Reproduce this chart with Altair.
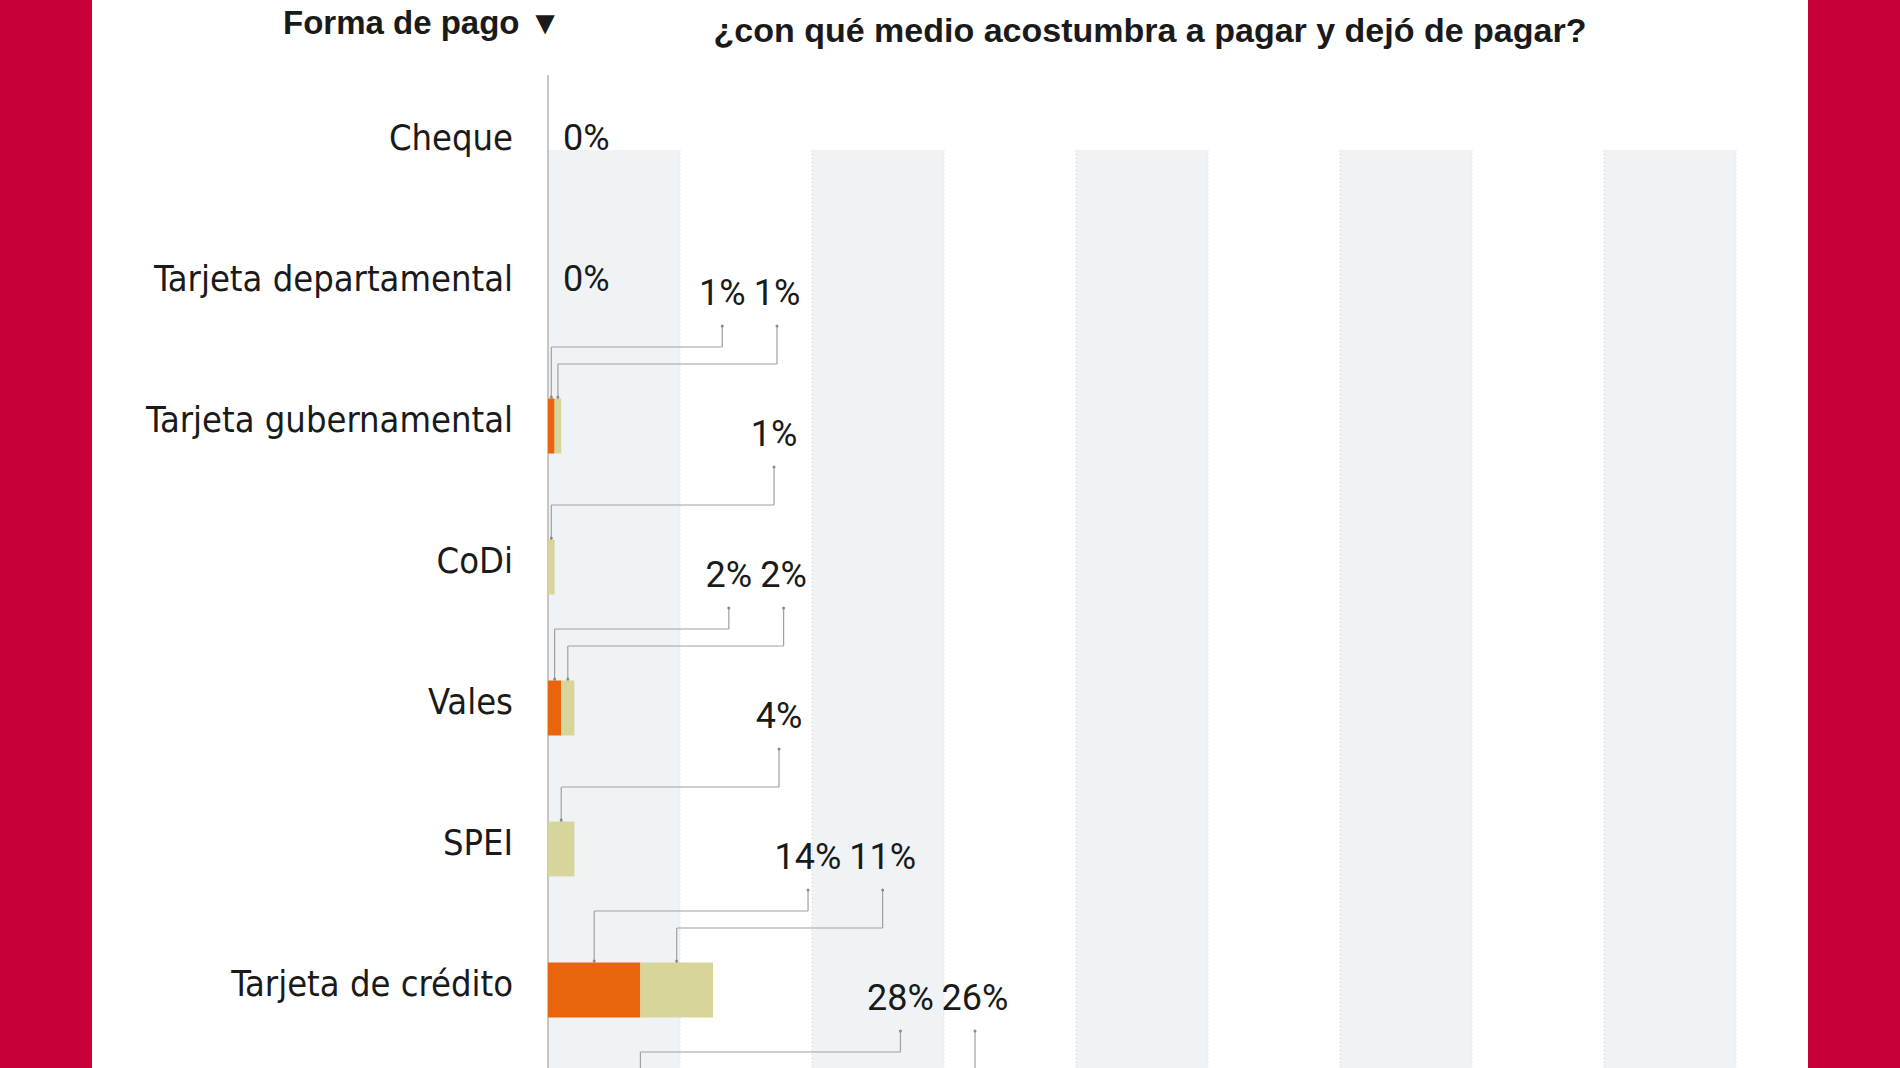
import altair as alt
import pandas as pd

# ---------------- data ----------------
categories = ["Cheque", "Tarjeta departamental", "Tarjeta gubernamental", "CoDi",
              "Vales", "SPEI", "Tarjeta de crédito", "Tarjeta de débito"]
acostumbra = [0, 0, 1, 0, 2, 0, 14, 28]   # orange segment
dejo = [0, 0, 1, 1, 2, 4, 11, 26]         # khaki segment
series_names = ["Acostumbra a pagar", "Dejó de pagar"]
band_starts = [0, 40, 80, 120, 160]
grid_values = [20, 40, 60, 80, 100, 120, 140, 160, 180]
header_text = "Forma de pago ▼"
title_text = "¿con qué medio acostumbra a pagar y dejó de pagar?"

# ---------------- styles ----------------
RED = "#C8003A"
ORANGE = "#E8650E"
KHAKI = "#D8D59A"
BAND = "#F0F3F6"
TXT = "#1a1a1a"
LEAD = "#a0a0a0"
FONT = "DejaVu Sans Condensed, DejaVu Sans, sans-serif"
NFONT = "Roboto, sans-serif"
BFONT = "Liberation Sans, Roboto, sans-serif"

W, H = 1188, 993
STEP = 141.0
Y0 = -69 / STEP
Y1 = Y0 + H / STEP

rows = pd.DataFrame({"row": range(len(categories)), "category": categories,
                     "a": acostumbra, "d": dejo})
rows["total"] = rows["a"] + rows["d"]

segs = []
for i, (c, a, d) in enumerate(zip(categories, acostumbra, dejo)):
    lx1 = None
    if a > 0:
        mid1 = a / 2
        lx1 = 25.4 + 2 * mid1
        segs.append({"row": i, "series": series_names[0], "start": 0, "end": a,
                     "mid": mid1, "label": f"{a}%", "lx": lx1})
    if d > 0:
        mid2 = a + d / 2
        if lx1 is not None:
            gap = 3.0 * (len(f"{a}%") + len(f"{d}%")) / 2 + 2.3
            lx2 = lx1 + gap
        else:
            lx2 = 34 + 0.5 * mid2
        segs.append({"row": i, "series": series_names[1], "start": a, "end": a + d,
                     "mid": mid2, "label": f"{d}%", "lx": lx2})
segs = pd.DataFrame(segs)
zero_rows = rows[rows["total"] == 0].assign(label="0%", zero=0)

xs = alt.Scale(domain=[0, 180], nice=False, zero=False, padding=0)
ys = alt.Scale(domain=[Y0, Y1], reverse=True, nice=False, zero=False, padding=0)
color = alt.Color("series:N", scale=alt.Scale(domain=series_names, range=[ORANGE, KHAKI]), legend=None)

one = pd.DataFrame({"k": [0]})

bg = alt.Chart(one).mark_rect(color="white").encode(
    x=alt.value(92 - 548), x2=alt.value(1808 - 548), y=alt.value(-75), y2=alt.value(H))

bands = alt.Chart(pd.DataFrame({"b": band_starts})).transform_calculate(
    b2="datum.b + 20").mark_rect(color=BAND).encode(
    x=alt.X("b:Q", scale=xs, axis=None), x2="b2:Q", y=alt.value(75), y2=alt.value(H))

grid = alt.Chart(pd.DataFrame({"g": grid_values})).mark_rule(
    color="#cfd3d6", strokeDash=[1, 3], strokeWidth=1).encode(
    x=alt.X("g:Q", scale=xs), y=alt.value(75), y2=alt.value(H))

axis_line = alt.Chart(pd.DataFrame({"z": [0]})).mark_rule(
    color="#b5b5b5", strokeWidth=1.5).encode(
    x=alt.X("z:Q", scale=xs), y=alt.value(0), y2=alt.value(H))

Y = alt.Y("row:Q", scale=ys, axis=None)

bars = alt.Chart(segs).mark_bar(orient="horizontal", size=55, clip=True).encode(
    x=alt.X("start:Q", scale=xs), x2="end:Q", y=Y, color=color)

def leaders(series, elbow):
    base = alt.Chart(segs).transform_filter(alt.datum.series == series)
    v1 = base.mark_rule(color=LEAD, strokeWidth=1.2, yOffset=-100, y2Offset=elbow, clip=True).encode(
        x=alt.X("lx:Q", scale=xs), y=Y, y2="row:Q")
    h = base.mark_rule(color=LEAD, strokeWidth=1.2, yOffset=elbow, clip=True).encode(
        x=alt.X("lx:Q", scale=xs), x2="mid:Q", y=Y)
    v2 = base.mark_rule(color=LEAD, strokeWidth=1.2, yOffset=elbow, y2Offset=-27, clip=True).encode(
        x=alt.X("mid:Q", scale=xs), y=Y, y2="row:Q")
    d1 = base.mark_circle(color="#8a8a8a", size=9, opacity=1, yOffset=-100, clip=True).encode(
        x=alt.X("lx:Q", scale=xs), y=Y)
    d2 = base.mark_circle(color="#8a8a8a", size=9, opacity=1, yOffset=-29, clip=True).encode(
        x=alt.X("mid:Q", scale=xs), y=Y)
    return [v1, h, v2, d1, d2]

lead_layers = leaders(series_names[0], -79) + leaders(series_names[1], -62)

val_labels = alt.Chart(segs).mark_text(
    font=NFONT, fontSize=36, color=TXT, align="center", baseline="middle", dy=-132).encode(
    x=alt.X("lx:Q", scale=xs), y=Y, text="label:N")

zero_labels = alt.Chart(zero_rows).mark_text(
    font=NFONT, fontSize=36, color=TXT, align="left", baseline="middle", dx=15, dy=-5).encode(
    x=alt.X("zero:Q", scale=xs), y=Y, text="label:N")

# only rows whose label falls inside the visible window
row_labels = alt.Chart(rows).transform_filter(
    f"datum.row + 0.3 < {Y1}").mark_text(
    font=FONT, fontSize=36, color=TXT, align="right", baseline="middle", dy=-5).encode(
    x=alt.value(-35), y=Y, text="category:N")

header = alt.Chart(pd.DataFrame({"t": [header_text]})).mark_text(
    font=BFONT, fontSize=33, fontWeight="bold", color=TXT, align="left", baseline="middle").encode(
    x=alt.value(283 - 548), y=alt.value(24 - 75), text="t:N")

title = alt.Chart(pd.DataFrame({"t": [title_text]})).mark_text(
    font=BFONT, fontSize=34, fontWeight="bold", color=TXT, align="center", baseline="middle").encode(
    x=alt.value(1150 - 548), y=alt.value(32 - 75), text="t:N")

chart = alt.layer(
    bg, bands, grid, axis_line, bars, *lead_layers, val_labels, zero_labels, row_labels, header, title
).properties(
    width=W, height=H,
    padding={"left": 548, "top": 75, "right": 1900 - 548 - W, "bottom": 0},
    autosize=alt.AutoSizeParams(type="none"),
    background=RED,
).configure_view(stroke=None)

chart.save("out.html", embed_options={"renderer": "svg", "actions": False})
